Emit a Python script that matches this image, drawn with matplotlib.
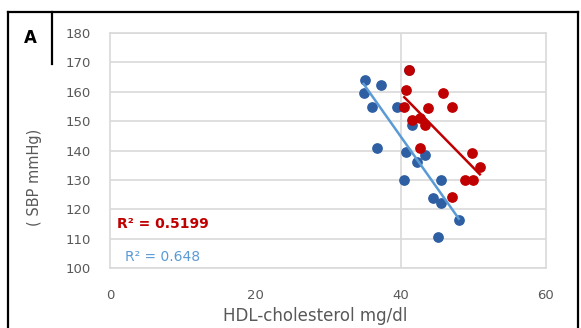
import matplotlib
matplotlib.use("Agg")
import matplotlib.pyplot as plt
from matplotlib.lines import Line2D
import numpy as np

# HDL-cholesterol (mg/dl) vs SBP (mmHg)
blue_x = [35.1, 37.3, 34.9, 36.0, 39.5, 41.2, 41.6, 36.7, 40.8, 43.3,
          42.2, 40.4, 45.6, 44.4, 45.5, 48.0, 45.2]
blue_y = [164.0, 162.3, 159.6, 154.8, 154.8, 167.4, 148.7, 140.9, 139.5, 138.5,
          136.1, 130.0, 130.0, 123.9, 122.2, 116.4, 110.6]
red_x = [41.1, 40.8, 45.8, 40.5, 43.7, 47.1, 42.6, 43.3, 41.6, 42.6,
         49.8, 50.9, 48.8, 49.9, 47.0]
red_y = [167.4, 160.6, 159.6, 154.8, 154.5, 154.8, 151.1, 148.7, 150.4, 140.9,
         139.2, 134.4, 130.0, 130.0, 124.2]

x_ticks = [0, 20, 40, 60]
y_ticks = [100, 110, 120, 130, 140, 150, 160, 170, 180]
red_r2 = "R² = 0.5199"
blue_r2 = "R² = 0.648"

BLUE_PT = "#2E5FA3"
BLUE_LN = "#5B9BD5"
RED = "#C00000"
GREY = "#595959"
GRID = "#D9D9D9"

plt.rcParams["font.family"] = ["DejaVu Sans"]

fig = plt.figure(figsize=(5.81, 3.28), dpi=100)
ax = fig.add_axes([0.1893, 0.1829, 0.7504, 0.7165])

ax.set_xlim(0, 60)
ax.set_ylim(100, 180)
ax.set_xticks(x_ticks)
ax.set_yticks(y_ticks)
ax.tick_params(length=0, labelsize=9.5, colors=GREY, pad=14)
ax.tick_params(axis="x", pad=15)
for s in ax.spines.values():
    s.set_color(GRID)
    s.set_linewidth(1.2)
ax.grid(axis="y", color=GRID, linewidth=1.2)
ax.axvline(40, color=GRID, linewidth=1.2, zorder=0)
ax.set_axisbelow(True)

# trend lines (least squares, over the range of each group)
for xs, ys, col in [(blue_x, blue_y, BLUE_LN), (red_x, red_y, RED)]:
    k, b = np.polyfit(xs, ys, 1)
    xx = np.array([min(xs), max(xs)])
    ax.plot(xx, k * xx + b, color=col, linewidth=1.8, zorder=3)

ax.scatter(blue_x, blue_y, s=45, color=BLUE_PT, zorder=2)
ax.scatter(red_x, red_y, s=45, color=RED, zorder=4)

ax.text(1.0, 115.0, red_r2, color=RED, fontsize=10, fontweight="bold", va="center")
ax.text(2.0, 103.6, blue_r2, color=BLUE_LN, fontsize=10, va="center")

ax.set_xlabel("HDL-cholesterol mg/dl", fontsize=12, color=GREY)
ax.xaxis.set_label_coords(0.47, -0.165)
fig.text(0.06, 0.46, "( SBP mmHg)", rotation=90, fontsize=10.5, color=GREY,
         ha="center", va="center")

# panel frame and label
fig.add_artist(Line2D([0.014, 0.014], [0.0, 0.963], color="black", lw=1.6))
fig.add_artist(Line2D([0.014, 0.995], [0.963, 0.963], color="black", lw=1.6))
fig.add_artist(Line2D([0.995, 0.995], [0.0, 0.963], color="black", lw=1.6))
fig.add_artist(Line2D([0.0895, 0.0895], [0.805, 0.963], color="black", lw=1.6))
fig.text(0.052, 0.885, "A", fontsize=12, fontweight="bold", ha="center", va="center")

fig.savefig("out.png", dpi=100)
